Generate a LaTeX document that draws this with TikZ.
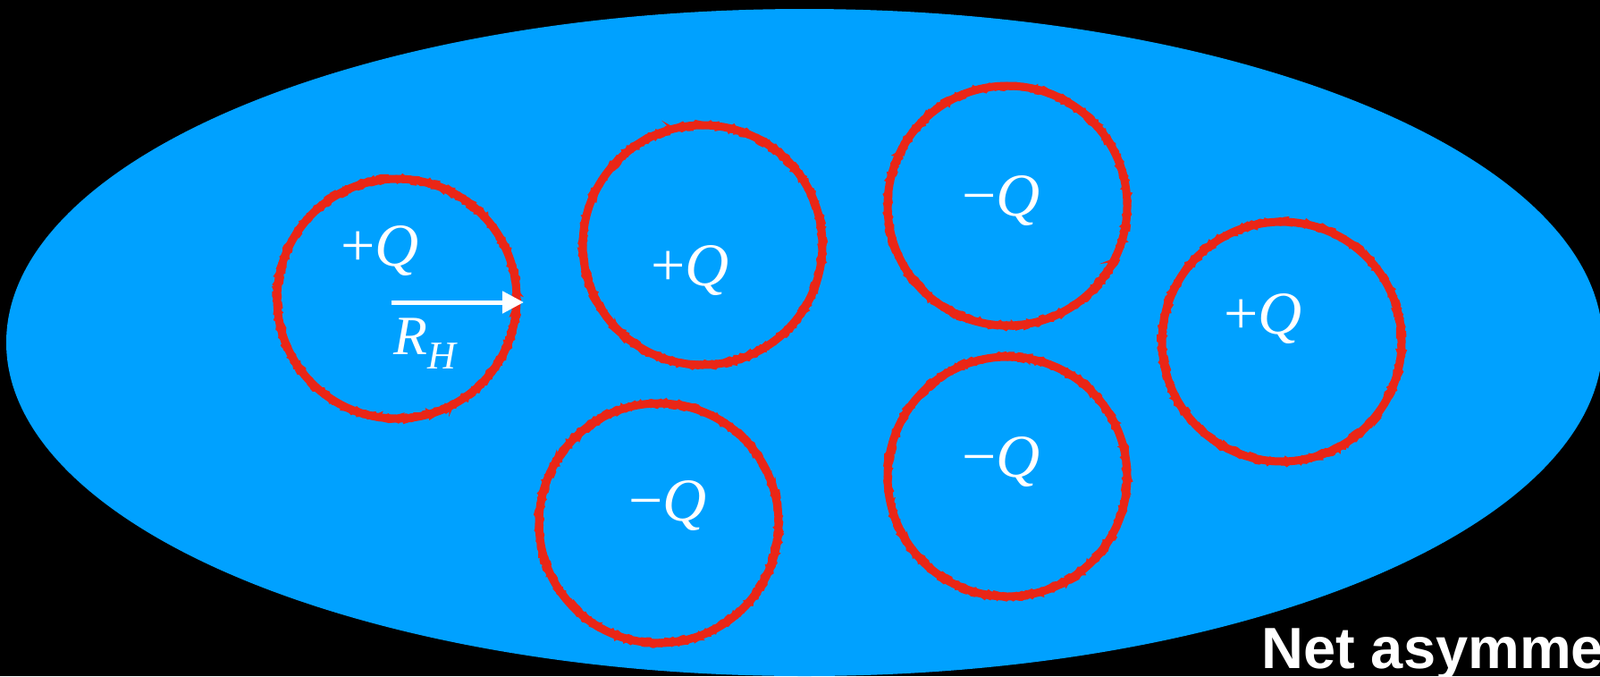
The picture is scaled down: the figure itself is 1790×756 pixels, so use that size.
\documentclass[tikz,border=0pt]{standalone}
\usepackage{fontspec}
\setmainfont{Liberation Serif}
\newfontfamily\labfont{Liberation Sans}
\usetikzlibrary{arrows.meta,decorations.pathmorphing}
\definecolor{skyblue}{RGB}{0,161,255}
\definecolor{ringred}{RGB}{234,38,22}
\tikzset{
  ring/.style={circle, draw=ringred, line width=9pt, minimum size=268pt, inner sep=0pt},
  rough/.style={draw=ringred, line width=2.5pt, decorate, decoration={random steps, segment length=3pt, amplitude=2pt}},
  charge/.style={text=white, font=\fontsize{68}{72}\selectfont, inner sep=0pt},
}
\newcommand{\Qp}{+\textit{Q}}
\newcommand{\Qm}{\char"2212\textit{Q}}
\begin{document}
\begin{tikzpicture}[x=1pt,y=-1pt]
\useasboundingbox (0,0) rectangle (1790,756);
\fill[black] (0,0) rectangle (1790,756);
\clip (0,0) rectangle (1790,756);
\fill[skyblue] (900,383) ellipse [x radius=893, y radius=373];
\foreach \n/\p in {c1/{(444,334)}, c2/{(786,274)}, c3/{(1127,230)}, c4/{(1434,382)}, c5/{(737,585)}, c6/{(1127,533)}}{
  \node[ring] (\n) at \p {};
  \draw[rough] (\n.center) circle[radius=131pt];
  \draw[rough] (\n.center) circle[radius=137pt];
}
\node[charge] (q1) at (425,280) {\Qp};
\node[charge] (q2) at (772,302) {\Qp};
\node[charge] (q3) at (1120,224) {\Qm};
\node[charge] (q4) at (1413,356) {\Qp};
\node[charge] (q5) at (747,565) {\Qm};
\node[charge] (q6) at (1120,516) {\Qm};
\coordinate (a0) at (438,338);
\coordinate (a1) at (586,338);
\draw[white, line width=5pt, -{Triangle[length=24pt,width=24pt]}] (a0) -- (a1);
\node[charge, anchor=base west, font=\fontsize{62}{64}\selectfont] (rh) at (440,396) {\textit{R}\raisebox{-16pt}{\fontsize{44}{44}\selectfont\textit{H}}};
\node[text=white, anchor=base west, inner sep=0pt, font=\labfont\bfseries\fontsize{65}{68}\selectfont] (net) at (1411,747) {Net asymmetry};
\end{tikzpicture}
\end{document}
